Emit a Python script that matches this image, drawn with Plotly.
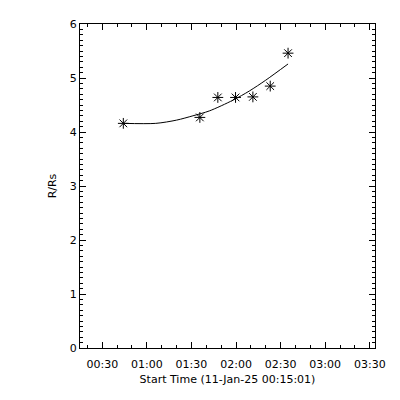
import plotly.graph_objects as go

# Observed data (R/Rs vs time, 11-Jan-25)
obs_times = ["2025-01-11 00:44:10", "2025-01-11 01:35:40", "2025-01-11 01:47:45",
             "2025-01-11 01:59:40", "2025-01-11 02:11:20", "2025-01-11 02:23:00",
             "2025-01-11 02:35:00"]
obs_r = [4.16, 4.27, 4.64, 4.64, 4.65, 4.85, 5.46]

# Fitted curve
fit_times = ["2025-01-11 00:44:10", "2025-01-11 01:06:00", "2025-01-11 01:20:00",
             "2025-01-11 01:31:00", "2025-01-11 01:42:00", "2025-01-11 01:58:00",
             "2025-01-11 02:09:00", "2025-01-11 02:20:00", "2025-01-11 02:35:00"]
fit_r = [4.16, 4.16, 4.22, 4.30, 4.39, 4.59, 4.76, 4.96, 5.26]

x_range = ["2025-01-11 00:15:01", "2025-01-11 03:33:30"]
y_range = [0, 6]
x_title = "Start Time (11-Jan-25 00:15:01)"
y_title = "R/Rs"

FONT = "DejaVu Sans"

fig = go.Figure()
fig.add_trace(go.Scatter(x=fit_times, y=fit_r, mode="lines",
                         line=dict(color="black", width=1, shape="spline", smoothing=0.8),
                         showlegend=False))
fig.add_trace(go.Scatter(x=obs_times, y=obs_r, mode="markers",
                         marker=dict(symbol="asterisk-open", size=9,
                                     line=dict(color="black", width=1), color="black"),
                         showlegend=False))

fig.update_layout(
    width=400, height=400,
    margin=dict(l=72, r=33, t=16, b=60, autoexpand=False),
    paper_bgcolor="white", plot_bgcolor="white",
    font=dict(family=FONT, size=11, color="black"),
    xaxis=dict(
        type="date", range=x_range, tickformat="%H:%M",
        dtick=1800000, tick0="2025-01-11 00:00:00",
        ticks="inside", ticklen=6, tickcolor="black", tickwidth=1,
        ticklabelstandoff=6,
        minor=dict(dtick=600000, tick0="2025-01-11 00:00:00", ticks="inside",
                   ticklen=3, tickcolor="black", tickwidth=1),
        showline=True, linecolor="black", linewidth=1, mirror="allticks",
        showgrid=False, zeroline=False, automargin=False,
        title=dict(text=x_title, standoff=5, font=dict(size=11)),
        tickfont=dict(size=11),
    ),
    yaxis=dict(
        range=y_range, dtick=1, tick0=0,
        ticks="inside", ticklen=6, tickcolor="black", tickwidth=1,
        minor=dict(dtick=0.1, ticks="inside", ticklen=3, tickcolor="black", tickwidth=1),
        showline=True, linecolor="black", linewidth=1, mirror="allticks",
        showgrid=False, zeroline=False, automargin=False,
        title=dict(text=y_title, standoff=10, font=dict(size=11)),
        tickfont=dict(size=11),
    ),
)

fig.write_html("out.html")
